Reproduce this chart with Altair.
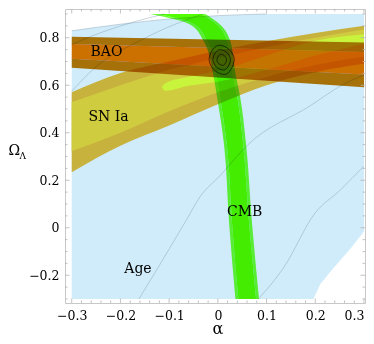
import altair as alt
import pandas as pd

# ---------------- data ----------------
X_DOMAIN = [-0.3138, 0.3021]
Y_DOMAIN = [-0.3168, 0.921]

x_major = [-0.3, -0.2, -0.1, 0.0, 0.1, 0.2, 0.3]
x_minor = [-0.28, -0.26, -0.24, -0.22, -0.18, -0.16, -0.14, -0.12, -0.08, -0.06, -0.04, -0.02,
           0.02, 0.04, 0.06, 0.08, 0.12, 0.14, 0.16, 0.18, 0.22, 0.24, 0.26, 0.28]
y_major = [-0.2, 0.0, 0.2, 0.4, 0.6, 0.8]
y_minor = [-0.3, -0.25, -0.15, -0.1, -0.05, 0.05, 0.1, 0.15, 0.25, 0.3, 0.35, 0.45, 0.5,
           0.55, 0.65, 0.7, 0.75, 0.85, 0.9]

# Age region (light blue)
age_a = [-0.3, -0.2, -0.1, 0.0, 0.1, 0.196, 0.203, 0.21, 0.237, 0.272, 0.3]
age_lo = [-0.3, -0.3, -0.3, -0.3, -0.3, -0.3, -0.27, -0.238, -0.17, -0.088, -0.016]
age_hi = [0.829, 0.857, 0.879, 0.893, 0.9, 0.9, 0.9, 0.9, 0.9, 0.9, 0.9]

# Age contour lines
ageT_a = [-0.3, -0.2, -0.1, 0.0, 0.1]
ageT_y = [0.829, 0.857, 0.879, 0.893, 0.9]
age0_a = [-0.3, -0.26, -0.22, -0.17, -0.11]
age0_y = [0.771, 0.806, 0.836, 0.868, 0.9]
age1_a = [-0.3, -0.242, -0.173, -0.105, -0.03]
age1_y = [0.575, 0.692, 0.774, 0.842, 0.9]
age2_a = [-0.162, -0.119, -0.064, -0.0365, 0.0047, 0.062, 0.19, 0.251, 0.3]
age2_y = [-0.3, -0.155, 0.035, 0.131, 0.22, 0.35, 0.514, 0.596, 0.644]
age3_a = [0.083, 0.1345, 0.2, 0.251, 0.3]
age3_y = [-0.3, -0.17, 0.063, 0.158, 0.26]

# SN Ia bands
sn_a = [-0.3, -0.2, -0.1, 0.0, 0.1, 0.2, 0.3]
sn3_lo = [0.234, 0.345, 0.43, 0.52, 0.60, 0.655, 0.69]
sn3_hi = [0.571, 0.652, 0.70, 0.745, 0.785, 0.82, 0.85]
sn2_lo = [0.323, 0.40, 0.49, 0.57, 0.635, 0.685, 0.72]
sn2_hi = [0.528, 0.60, 0.665, 0.715, 0.76, 0.80, 0.835]
sn1_a = [-0.115, -0.108, -0.06, 0.0, 0.1, 0.2, 0.3]
sn1_lo = [0.593, 0.577, 0.598, 0.615, 0.665, 0.725, 0.775]
sn1_hi = [0.593, 0.608, 0.636, 0.66, 0.725, 0.787, 0.815]

# BAO band
bao_a = [-0.3, 0.3]
bao_out_lo = [0.674, 0.592]
bao_mid_lo = [0.712, 0.645]
bao_mid_hi = [0.774, 0.74]
bao_out_hi = [0.804, 0.78]

# CMB band (edges as functions of Omega_Lambda)
cmb_y = [-0.3, 0.022, 0.35, 0.555, 0.651, 0.789, 0.856, 0.9]
cmb_l = [0.036, 0.023, 0.0127, -0.002, -0.010, -0.030, -0.057, -0.139]
cmb_il = [0.042, 0.029, 0.0185, 0.004, -0.004, -0.023, -0.048, -0.122]
cmb_ir = [0.0785, 0.064, 0.052, 0.0395, 0.030, 0.019, -0.002, -0.033]
cmb_r = [0.0845, 0.070, 0.058, 0.0455, 0.036, 0.025, 0.0045, -0.026]

# combined contours (ellipses)
ell_out_a = [0.0018, 0.0224, 0.0337, 0.0265, 0.0142, -0.0064, -0.0177, -0.0125]
ell_out_y = [0.7685, 0.7521, 0.7111, 0.666, 0.6455, 0.6619, 0.7029, 0.7439]
ell_mid_a = [0.0037, 0.0181, 0.026, 0.0209, 0.0123, -0.0021, -0.01, -0.0064]
ell_mid_y = [0.7501, 0.7386, 0.7099, 0.6783, 0.6639, 0.6754, 0.7041, 0.7328]
ell_in_a = [0.0057, 0.0135, 0.0178, 0.015, 0.0103, 0.0025, -0.0018, 0.001]
ell_in_y = [0.7304, 0.7242, 0.7086, 0.6914, 0.6836, 0.6898, 0.7054, 0.7226]

label_text = ["BAO", "SN Ia", "CMB", "Age"]
label_a = [-0.2286, -0.2245, 0.055, -0.164]
label_y = [0.722, 0.448, 0.051, -0.19]

# ---------------- styling ----------------
FONT = "DejaVu Serif"
AGE_BLUE = "#d0ecfa"
SN3 = "#c8b23e"
SN2 = "#cfcc40"
SN1 = "#c8f53c"
BAO_OUT = "#ca7a08"
BAO_MID = "#fa7900"
CMB_EDGE = "#6cff36"
CMB_CORE = "#52ff00"
AGE_LINE = "#7d97ad"
TICK = "#b4b4b4"

xs = alt.Scale(domain=X_DOMAIN, nice=False, zero=False)
ys = alt.Scale(domain=Y_DOMAIN, nice=False, zero=False)
LBL = "datum.value == 0 ? '0' : format(datum.value, '.1f')"
X_AX = alt.Axis(values=x_major, labelExpr=LBL, title=None, grid=False, ticks=False,
                domain=False, labelFont=FONT, labelFontSize=12.5, labelColor="black",
                labelPadding=6, labelFlush=2)
Y_AX = alt.Axis(values=y_major, labelExpr=LBL, title=None, grid=False, ticks=False,
                domain=False, labelFont=FONT, labelFontSize=12.5, labelColor="black",
                labelPadding=6)


def X(f):
    return alt.X(f, type="quantitative", scale=xs, axis=X_AX)


def Y(f):
    return alt.Y(f, type="quantitative", scale=ys, axis=Y_AX)


def band(a, lo, hi, color, blend=None, interp="linear"):
    df = pd.DataFrame({"a": a, "lo": lo, "hi": hi})
    kw = {"color": color, "opacity": 1, "interpolate": interp}
    if blend:
        kw["blend"] = blend
    return alt.Chart(df).mark_area(**kw).encode(x=X("a"), y=Y("lo"), y2="hi")


def hband(yv, l, r, color):
    df = pd.DataFrame({"w": yv, "l": l, "r": r})
    return alt.Chart(df).mark_area(orient="horizontal", color=color, blend="multiply",
                                   interpolate="monotone", opacity=1).encode(
        y=Y("w"), x=X("l"), x2="r")


def line(a, y, **kw):
    df = pd.DataFrame({"a": a, "y": y, "k": list(range(len(a)))})
    return alt.Chart(df).mark_line(interpolate="monotone", **kw).encode(
        x=X("a"), y=Y("y"), order="k:Q")


layers = []
layers.append(band(age_a, age_lo, age_hi, AGE_BLUE))
for aa, yy in [(ageT_a, ageT_y), (age0_a, age0_y), (age1_a, age1_y), (age2_a, age2_y), (age3_a, age3_y)]:
    layers.append(line(aa, yy, color=AGE_LINE, strokeWidth=0.6, opacity=0.7))
layers.append(band(sn_a, sn3_lo, sn3_hi, SN3, interp="monotone"))
layers.append(band(sn_a, sn2_lo, sn2_hi, SN2, interp="monotone"))
layers.append(band(sn1_a, sn1_lo, sn1_hi, SN1, interp="monotone"))
layers.append(band(bao_a, bao_out_lo, bao_mid_lo, BAO_OUT, "multiply"))
layers.append(band(bao_a, bao_mid_lo, bao_mid_hi, BAO_MID, "multiply"))
layers.append(band(bao_a, bao_mid_hi, bao_out_hi, BAO_OUT, "multiply"))
layers.append(hband(cmb_y, cmb_l, cmb_il, CMB_EDGE))
layers.append(hband(cmb_y, cmb_il, cmb_ir, CMB_CORE))
layers.append(hband(cmb_y, cmb_ir, cmb_r, CMB_EDGE))

ell_rows = []
for name, aa, yy in [("o", ell_out_a, ell_out_y), ("m", ell_mid_a, ell_mid_y), ("i", ell_in_a, ell_in_y)]:
    for k, (p, q) in enumerate(zip(aa, yy)):
        ell_rows.append({"e": name, "k": k, "a": p, "y": q})
ell_df = pd.DataFrame(ell_rows)
layers.append(alt.Chart(ell_df).mark_line(interpolate="cardinal-closed", color="black",
                                          strokeWidth=0.7, opacity=0.85).encode(
    x=X("a"), y=Y("y"), detail="e:N", order="k:Q"))

# frame ticks
W, H = 300, 294
xmaj = pd.DataFrame({"v": x_major})
xmin = pd.DataFrame({"v": x_minor})
ymaj = pd.DataFrame({"v": y_major})
ymin = pd.DataFrame({"v": y_minor})
for df, ln in [(xmaj, 4.5), (xmin, 2.5)]:
    layers.append(alt.Chart(df).mark_rule(color=TICK, strokeWidth=0.8).encode(
        x=X("v"), y=alt.value(H), y2=alt.value(H - ln)))
    layers.append(alt.Chart(df).mark_rule(color=TICK, strokeWidth=0.8).encode(
        x=X("v"), y=alt.value(0), y2=alt.value(ln)))
for df, ln in [(ymaj, 4.5), (ymin, 2.5)]:
    layers.append(alt.Chart(df).mark_rule(color=TICK, strokeWidth=0.8).encode(
        y=Y("v"), x=alt.value(0), x2=alt.value(ln)))
    layers.append(alt.Chart(df).mark_rule(color=TICK, strokeWidth=0.8).encode(
        y=Y("v"), x=alt.value(W), x2=alt.value(W - ln)))

lab_df = pd.DataFrame({"t": label_text, "a": label_a, "y": label_y})
layers.append(alt.Chart(lab_df).mark_text(font=FONT, fontSize=14, baseline="alphabetic",
                                          align="center", color="black").encode(
    x=X("a"), y=Y("y"), text="t:N"))

# axis titles
layers.append(alt.Chart(pd.DataFrame({"t": ["α"]})).mark_text(
    font=FONT, fontSize=16, baseline="alphabetic", align="center", color="black").encode(
    x=alt.value(153), y=alt.value(324.5), text="t:N"))
layers.append(alt.Chart(pd.DataFrame({"t": ["Ω"]})).mark_text(
    font=FONT, fontSize=14, baseline="alphabetic", align="left", color="black").encode(
    x=alt.value(-56.5), y=alt.value(146), text="t:N"))
layers.append(alt.Chart(pd.DataFrame({"t": ["Λ"]})).mark_text(
    font=FONT, fontSize=9, baseline="alphabetic", align="left", color="black").encode(
    x=alt.value(-45.5), y=alt.value(149.5), text="t:N"))

chart = alt.layer(*layers).properties(
    width=W, height=H,
    padding={"left": 57, "top": 1, "right": 1, "bottom": 33},
    autosize=alt.AutoSizeParams(type="none"),
).configure_view(stroke="#c8c8c8", strokeWidth=1)

chart.save("out.html", embed_options={"renderer": "svg", "actions": False})
